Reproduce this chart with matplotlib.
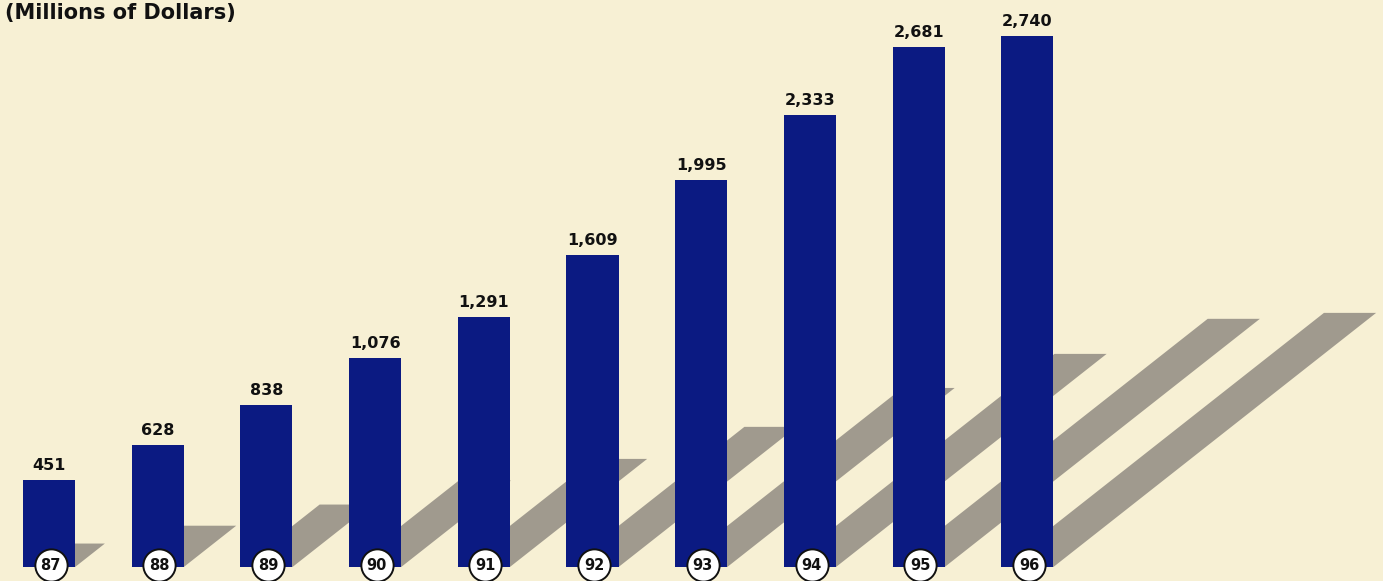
import matplotlib.pyplot as plt
from matplotlib.patches import Polygon

# data
years = ["87", "88", "89", "90", "91", "92", "93", "94", "95", "96"]
values = [451, 628, 838, 1076, 1291, 1609, 1995, 2333, 2681, 2740]
title = "(Millions of Dollars)"

bg = "#f7f0d4"
bar_color = "#0b1a82"
shadow_color = "#a09a8e"

fig = plt.figure(figsize=(13.83, 5.81), dpi=100, facecolor=bg)
ax = fig.add_axes([0, 0, 1, 1])
ax.set_facecolor(bg)

# pixel <-> data scale
px_x = 108.7          # pixels per category step
px_y = 0.1938         # pixels per million
ax.set_xlim(-49 / px_x, (1383 - 49) / px_x)
ax.set_ylim(-14 / px_y, (581 - 14) / px_y)
ax.axis("off")

width = 0.48
xs = list(range(len(values)))

# diagonal shadows (flat-topped parallelograms)
for x, v in zip(xs, values):
    dy_px = max(0.52 * v * px_y - 22, 8)
    dy = dy_px / px_y
    dx = dy_px * 1.27 / px_x
    xl, xr = x - width / 2, x + width / 2
    poly = Polygon([(xl, 0), (xr, 0), (xr + dx, dy), (xl + dx, dy)],
                   closed=True, facecolor=shadow_color, edgecolor="none", zorder=1)
    ax.add_patch(poly)

ax.bar(xs, values, width=width, color=bar_color, zorder=2)

for x, v in zip(xs, values):
    ax.text(x, v + 36, f"{v:,}", ha="center", va="bottom",
            fontsize=11.5, fontweight="bold", color="#111111", zorder=4)

# year badges
ax.scatter([x + 0.015 for x in xs], [8] * len(xs), s=540, facecolor="white",
           edgecolor="#111111", linewidths=1.4, zorder=3, clip_on=False)
for x, yr in zip(xs, years):
    ax.text(x + 0.015, 8, yr, ha="center", va="center", fontsize=10.5,
            fontweight="bold", color="#111111", zorder=4)

fig.text(5 / 1383, 1 - 3 / 581, title, ha="left", va="top",
         fontsize=15, fontweight="bold", color="#111111")

fig.savefig("out.png", dpi=100, facecolor=bg)
